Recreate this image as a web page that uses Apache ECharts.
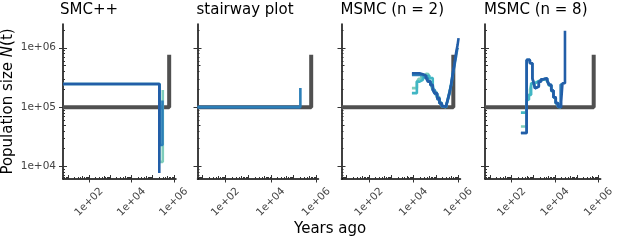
<!DOCTYPE html>
<html><head><meta charset="utf-8">
<script src="https://cdn.jsdelivr.net/npm/echarts@6/dist/echarts.min.js"></script>
<style>html,body{margin:0;padding:0;background:#fff}#c{width:617px;height:242px}</style>
</head><body><div id="c"></div>
<script>
// ---------- labels ----------
const panelTitles = ['SMC++', 'stairway plot', 'MSMC (n = 2)', 'MSMC (n = 8)'];
const xTickValues = [1e2, 1e4, 1e6];
const yTickValues = [1e4, 1e5, 1e6];
const xTitle = 'Years ago';

// ---------- data: [years ago, N(t)] ----------
const truth = [[5.9, 1e5], [6.0e5, 7.6e5]];

const smcLight = [[5.9, 2.45e5], [2.1e5, 1.2e4], [3.0e5, 1.95e5]];
const smcBlue  = [[5.9, 2.45e5], [2.15e5, 2.3e4], [2.9e5, 1.3e5]];
const smcDark  = [[5.9, 2.45e5], [2.05e5, 7.8e3]];

const stwDark = [[5.9, 1e5], [2.0e5, 1e5]];
const stwBlue = [[5.9, 1e5], [2.0e5, 2.1e5]];

const msmc2Light = [[8.4e3, 2.09e5], [1.4e4, 2.69e5], [1.7e4, 3.0e5], [2.2e4, 3.4e5], [2.9e4, 3.65e5], [3.7e4, 3.6e5], [4.6e4, 3.2e5], [5.5e4, 2.6e5], [6.6e4, 2.1e5], [8.0e4, 1.8e5], [1.05e5, 1.5e5], [1.4e5, 1.2e5], [1.8e5, 1.05e5], [2.2e5, 1.0e5], [2.8e5, 1.08e5], [3.3e5, 1.3e5], [4.0e5, 1.8e5], [4.7e5, 2.4e5]];
const msmc2Teal = [[8.4e3, 1.72e5], [1.4e4, 2.69e5], [1.85e4, 2.88e5], [2.6e4, 3.27e5], [3.7e4, 3.42e5], [5.1e4, 3.09e5], [7.2e4, 2.28e5], [8.6e4, 1.72e5], [1.13e5, 1.42e5], [1.43e5, 1.17e5], [1.81e5, 1.05e5], [2.22e5, 1.02e5], [2.84e5, 1.09e5], [3.34e5, 1.33e5], [3.98e5, 1.72e5], [4.74e5, 2.37e5], [5.25e5, 3.07e5], [5.8e5, 3.9e5]];
const msmc2Blue = [[8.4e3, 3.5e5], [1.5e4, 3.5e5], [2.2e4, 3.4e5], [3.2e4, 3.1e5], [4.3e4, 2.75e5], [5.6e4, 2.35e5], [7.2e4, 1.95e5], [9.0e4, 1.65e5], [1.15e5, 1.35e5], [1.45e5, 1.15e5], [1.85e5, 1.03e5], [2.3e5, 1.0e5], [2.9e5, 1.1e5], [3.5e5, 1.35e5], [4.2e5, 1.8e5], [5.0e5, 2.5e5], [5.6e5, 3.3e5], [6.3e5, 4.3e5], [7.1e5, 5.6e5], [8.0e5, 7.2e5], [9.0e5, 9.5e5], [9.8e5, 1.0e6]];
const msmc2Dark = [[8.4e3, 3.72e5], [1.32e4, 3.72e5], [1.85e4, 3.59e5], [2.59e4, 3.40e5], [3.66e4, 3.07e5], [4.33e4, 2.69e5], [5.7e4, 2.37e5], [7.2e4, 1.95e5], [8.6e4, 1.72e5], [1.13e5, 1.42e5], [1.43e5, 1.17e5], [1.81e5, 1.05e5], [2.22e5, 1.02e5], [2.84e5, 1.09e5], [3.34e5, 1.33e5], [3.98e5, 1.72e5], [4.74e5, 2.37e5], [5.25e5, 3.07e5], [5.81e5, 3.96e5], [6.64e5, 5.14e5], [7.36e5, 6.67e5], [8.15e5, 8.59e5], [9.31e5, 1.11e6], [1.03e6, 1.45e6]];

const msmc8Light = [[266, 4.72e4], [489, 1.2e5], [560, 1.6e5], [700, 2.0e5], [820, 2.5e5], [1100, 2.7e5], [1600, 2.85e5], [2500, 3.0e5], [3500, 2.9e5], [4303, 2.7e5], [5272, 2.3e5], [6653, 1.85e5], [8414, 1.45e5], [1.07e4, 1.15e5], [1.36e4, 1.02e5], [1.66e4, 1.0e5], [1.9e4, 1.0e5]];
const msmc8Teal = [[266, 8.1e4], [489, 1.33e5], [624, 1.61e5], [787, 2.53e5], [1200, 2.7e5], [1603, 2.88e5], [2400, 2.95e5], [3300, 2.9e5], [4303, 2.75e5], [5272, 2.35e5], [6653, 1.88e5], [8414, 1.46e5], [1.07e4, 1.16e5], [1.36e4, 1.02e5], [1.66e4, 1.0e5], [1.9e4, 1.0e5]];
const msmc8Blue = [[266, 3.66e4], [489, 6.24e5], [690, 5.48e5], [899, 3.07e5], [1035, 2.53e5], [1183, 2.08e5], [1449, 2.22e5], [1775, 2.69e5], [2244, 2.95e5], [2866, 3.14e5], [3508, 3.07e5], [4303, 2.80e5], [5272, 2.37e5], [6653, 1.90e5], [8414, 1.47e5], [1.07e4, 1.17e5], [1.36e4, 1.02e5], [1.8e4, 2.4e5], [2.2e4, 2.4e5]];
const msmc8Dark = [[266, 3.66e4], [489, 6.24e5], [690, 5.48e5], [899, 3.07e5], [1035, 2.53e5], [1183, 2.08e5], [1449, 2.22e5], [1775, 2.69e5], [2244, 2.95e5], [2866, 3.14e5], [3508, 3.07e5], [4303, 2.80e5], [5272, 2.37e5], [6653, 1.90e5], [8414, 1.47e5], [1.07e4, 1.17e5], [1.36e4, 1.02e5], [1.66e4, 1.0e5], [1.90e4, 1.24e5], [2.19e4, 2.53e5], [2.85e4, 1.94e6]];

// ---------- style ----------
const colors = ['#7fcdbb', '#41b6c4', '#2c7fb8', '#225ea8'];
const truthColor = '#505050';
const FONT = 'DejaVu Sans';

const panels = [
  { left: 61,    width: 115, lines: [[smcLight, 0], [smcBlue, 2], [smcDark, 3]] },
  { left: 197.5, width: 121, lines: [[stwDark, 3], [stwBlue, 2]] },
  { left: 341.5, width: 119, lines: [[msmc2Light, 0], [msmc2Teal, 1], [msmc2Blue, 2], [msmc2Dark, 3]] },
  { left: 485,   width: 120, lines: [[msmc8Light, 0], [msmc8Teal, 1], [msmc8Blue, 2], [msmc8Dark, 3]] }
];
const gTop = 24, gHeight = 155;
const xMin = Math.pow(10, 0.77), xMax = Math.pow(10, 6.1);
const yMin = Math.pow(10, 3.79), yMax = Math.pow(10, 6.4);

function logTicks(mults, lo, hi) {
  const out = [];
  for (let k = -1; k <= 7; k++) for (const m of mults) {
    const v = m * Math.pow(10, k);
    if (v >= lo * 1.0001 && v <= hi * 0.9999) out.push(v);
  }
  return out;
}
const fmt = v => { const e = Math.round(Math.log10(v)); return '1e+' + (e < 10 ? '0' : '') + e; };

const xLong = logTicks([1], xMin, xMax), xMid = logTicks([5], xMin, xMax), xShort = logTicks([2,3,4,6,7,8,9], xMin, xMax);
const yLong = logTicks([1], yMin, yMax), yMid = logTicks([5], yMin, yMax), yShort = logTicks([2,3,4,6,7,8,9], yMin, yMax);

const grid = [], xAxis = [], yAxis = [], series = [], title = [];
const tickColor = '#333';
panels.forEach((p, i) => {
  grid.push({ left: p.left, top: gTop, width: p.width, height: gHeight });
  title.push({ text: panelTitles[i], left: p.left - 1, top: 2, padding: 0,
    textStyle: { fontSize: 15, fontWeight: 'normal', fontFamily: FONT, color: '#000', lineHeight: 17 } });
  const base = { type: 'log', logBase: 10, gridIndex: i, splitLine: { show: false }, minorTick: { show: false } };
  // x axes
  xAxis.push(Object.assign({}, base, { position: 'bottom', min: xMin, max: xMax,
    axisLine: { show: true, onZero: false, lineStyle: { color: '#000', width: 1.5 } },
    axisTick: { show: true, customValues: xTickValues, length: 3.5, lineStyle: { color: tickColor, width: 1 } },
    axisLabel: { show: true, customValues: xTickValues, rotate: 45, align: 'center', verticalAlign: 'middle', margin: 23,
      formatter: fmt, color: '#444', fontSize: 10.5, fontFamily: FONT } }));
  [[xLong, 4], [xMid, 3], [xShort, 2]].forEach(([vals, len]) => {
    xAxis.push(Object.assign({}, base, { position: 'bottom', min: xMin, max: xMax,
      axisLine: { show: false, onZero: false },
      axisTick: { show: true, inside: true, customValues: vals, length: len, lineStyle: { color: tickColor, width: 1 } },
      axisLabel: { show: false } }));
  });
  // y axes
  const yMain = Object.assign({}, base, { position: 'left', min: yMin, max: yMax,
    axisLine: { show: true, onZero: false, lineStyle: { color: '#000', width: 1.5 } },
    axisTick: { show: true, customValues: yTickValues, length: 4, lineStyle: { color: tickColor, width: 1 } },
    axisLabel: { show: i === 0, customValues: yTickValues, margin: 7, formatter: fmt, color: '#444', fontSize: 10.5, fontFamily: FONT } });
  if (i === 0) {
    yMain.name = '{a|Population size }{i|N}{a|(t)}';
    yMain.nameLocation = 'middle';
    yMain.nameGap = 47;
    yMain.nameTextStyle = { rich: {
      a: { fontSize: 15, fontFamily: FONT, color: '#000' },
      i: { fontSize: 15, fontFamily: FONT, fontStyle: 'italic', color: '#000' } } };
  }
  yAxis.push(yMain);
  [[yLong, 4], [yMid, 3], [yShort, 2]].forEach(([vals, len]) => {
    yAxis.push(Object.assign({}, base, { position: 'left', min: yMin, max: yMax,
      axisLine: { show: false, onZero: false },
      axisTick: { show: true, inside: true, customValues: vals, length: len, lineStyle: { color: tickColor, width: 1 } },
      axisLabel: { show: false } }));
  });
  // series
  series.push({ type: 'line', xAxisIndex: i * 4, yAxisIndex: i * 4, data: truth, step: 'end', showSymbol: false, symbol: 'none',
    lineStyle: { color: truthColor, width: 4 }, silent: true, z: 2 });
  p.lines.forEach(([d, c], j) => {
    series.push({ type: 'line', xAxisIndex: i * 4, yAxisIndex: i * 4, data: d, step: 'end', showSymbol: false, symbol: 'none',
      lineStyle: { color: colors[c], width: 2.6 }, silent: true, z: 3 + j });
  });
});
title.push({ text: xTitle, left: 294, top: 221, padding: 0,
  textStyle: { fontSize: 15, fontWeight: 'normal', fontFamily: FONT, color: '#000', lineHeight: 17 } });

const chart = echarts.init(document.getElementById('c'), null, { renderer: 'canvas' });
chart.setOption({ animation: false, backgroundColor: '#fff', title, grid, xAxis, yAxis, series });
</script></body></html>
